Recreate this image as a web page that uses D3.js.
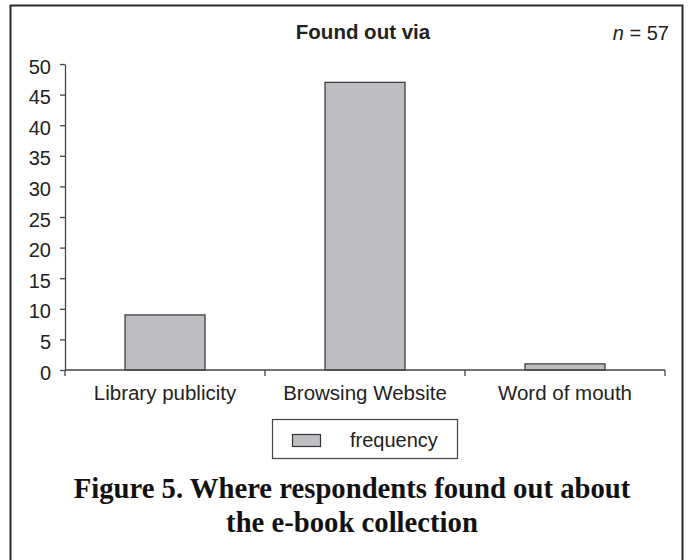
<!DOCTYPE html>
<html>
<head>
<meta charset="utf-8">
<script src="https://cdn.jsdelivr.net/npm/d3@7"></script>
<style>
  html, body { margin: 0; padding: 0; background: #fff; }
  svg { display: block; }
</style>
</head>
<body>
<svg id="chart" width="690" height="560"></svg>
<script>
// Survey responses: how people found out about the collection
const categories = ["Library publicity", "Browsing Website", "Word of mouth"];
const frequency = [9, 47, 1];
const yTicks = [0, 5, 10, 15, 20, 25, 30, 35, 40, 45, 50];
const seriesName = "frequency";
const chartTitle = "Found out via";
const sampleSize = 57;
const captionLines = ["Figure 5. Where respondents found out about", "the e-book collection"];

const svg = d3.select("#chart");
const sans = "'Liberation Sans', Arial, sans-serif";
const serif = "'Liberation Serif', 'Times New Roman', serif";

// outer frame
svg.append("rect")
  .attr("x", 10.5).attr("y", 5.5)
  .attr("width", 672).attr("height", 560)
  .attr("fill", "none").attr("stroke", "#2a2a2a").attr("stroke-width", 2);

const plot = { left: 65, right: 665, top: 64, bottom: 370 };

const x = d3.scaleBand().domain(categories).range([plot.left, plot.right]).padding(0);
const y = d3.scaleLinear().domain([0, 50]).range([plot.bottom, plot.top]);
const barW = x.bandwidth() * 0.4;

// bars
svg.append("g").selectAll("rect")
  .data(categories.map((c, i) => ({ c, v: frequency[i] })))
  .join("rect")
  .attr("x", d => x(d.c) + x.bandwidth() / 2 - barW / 2)
  .attr("y", d => y(d.v))
  .attr("width", barW)
  .attr("height", d => y(0) - y(d.v))
  .attr("fill", "#bebec2")
  .attr("stroke", "#333")
  .attr("stroke-width", 1.2);

// y axis
const yAxis = svg.append("g")
  .attr("transform", `translate(${plot.left},0)`)
  .call(d3.axisLeft(y).tickValues(yTicks).tickSize(5).tickPadding(9).tickSizeOuter(0));
yAxis.select(".domain").attr("stroke", "#444").attr("stroke-width", 1.3);
yAxis.selectAll(".tick line").attr("stroke", "#444").attr("stroke-width", 1.3);
yAxis.selectAll("text")
  .attr("font-family", sans).attr("font-size", 20).attr("fill", "#222")
  .attr("dy", "0.45em");

// x axis with ticks between categories
const xAxis = svg.append("g").attr("transform", `translate(0,${plot.bottom})`);
xAxis.append("line")
  .attr("x1", plot.left).attr("x2", plot.right)
  .attr("stroke", "#444").attr("stroke-width", 1.3);
const bounds = categories.map(c => x(c)).concat([x(categories[categories.length - 1]) + x.bandwidth()]);
xAxis.selectAll("line.sep").data(bounds).join("line")
  .attr("class", "sep")
  .attr("x1", d => d).attr("x2", d => d)
  .attr("y1", 0).attr("y2", 6)
  .attr("stroke", "#444").attr("stroke-width", 1.3);
xAxis.selectAll("text").data(categories).join("text")
  .attr("x", d => x(d) + x.bandwidth() / 2)
  .attr("y", 30)
  .attr("text-anchor", "middle")
  .attr("font-family", sans).attr("font-size", 20.5).attr("fill", "#222")
  .text(d => d);

// title and sample size
svg.append("text")
  .attr("x", 363).attr("y", 39)
  .attr("text-anchor", "middle")
  .attr("font-family", sans).attr("font-size", 20.5).attr("font-weight", "bold").attr("fill", "#222")
  .text(chartTitle);
const nText = svg.append("text")
  .attr("x", 669).attr("y", 40)
  .attr("text-anchor", "end")
  .attr("font-family", sans).attr("font-size", 20).attr("fill", "#222");
nText.append("tspan").attr("font-style", "italic").text("n");
nText.append("tspan").text(" = " + sampleSize);

// legend
const legend = svg.append("g");
legend.append("rect")
  .attr("x", 272.5).attr("y", 419.5).attr("width", 185).attr("height", 39)
  .attr("fill", "#fff").attr("stroke", "#444").attr("stroke-width", 1.2);
legend.append("rect")
  .attr("x", 292.5).attr("y", 434.5).attr("width", 28).attr("height", 12)
  .attr("fill", "#bebec2").attr("stroke", "#333").attr("stroke-width", 1.2);
legend.append("text")
  .attr("x", 350).attr("y", 447)
  .attr("font-family", sans).attr("font-size", 20).attr("fill", "#222")
  .text(seriesName);

// caption, sized so the first line spans its width
const capTarget = 557;
const capNodes = captionLines.map((line, i) => svg.append("text")
  .attr("x", 352).attr("y", 498 + i * 34)
  .attr("text-anchor", "middle")
  .attr("font-family", serif).attr("font-size", 24).attr("font-weight", "bold").attr("fill", "#111")
  .text(line));
const capSize = 24 * capTarget / capNodes[0].node().getComputedTextLength();
capNodes.forEach(t => t.attr("font-size", capSize));
</script>
</body>
</html>
